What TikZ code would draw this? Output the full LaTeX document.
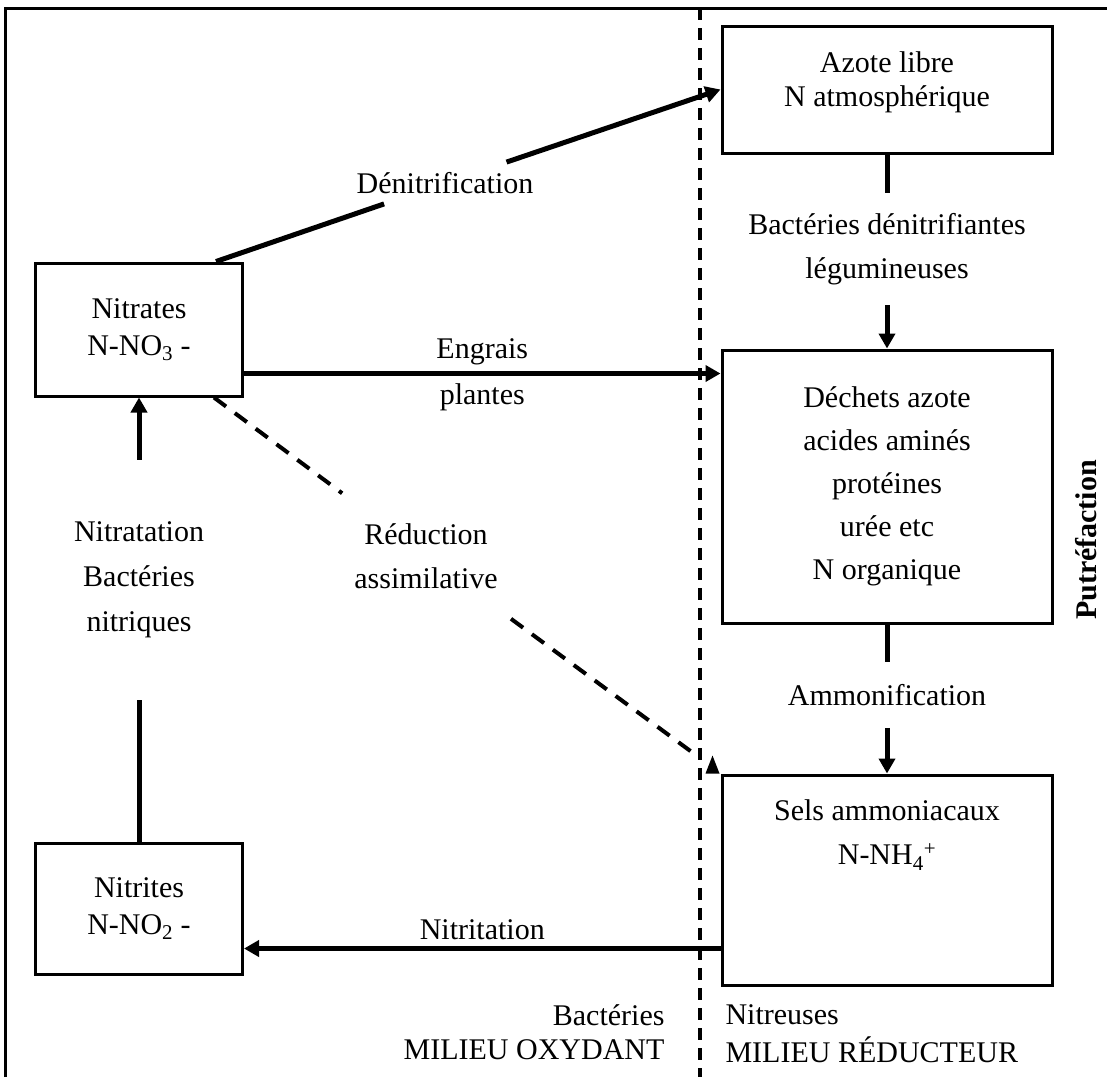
\documentclass[tikz,border=0pt]{standalone}
\usepackage{fontspec}
\setmainfont{Liberation Serif}
\usetikzlibrary{calc,arrows.meta}

\tikzset{
  box/.style={draw, line width=3pt, align=center, inner sep=0pt},
  lbl/.style={align=center, inner sep=10pt},
  conn/.style={line width=5pt},
  arr/.style={line width=5pt, -{Triangle[length=15pt,width=16pt]}},
  dashln/.style={line width=4pt, dash pattern=on 15pt off 11pt},
}

\begin{document}
\begin{tikzpicture}[x=1pt, y=-1pt, font=\fontsize{30pt}{36pt}\selectfont]
    \useasboundingbox(0,0)rectangle(1107,1077);
    % frame
    \path[draw, line width=3pt](5,1077)to(5,8)to(1107,8);
    % separation
    \path[draw, line width=4pt, dash pattern=on 12pt off 8pt](700,8)to(700,1077);
    % boxes right
    \node[box, minimum width=330pt, minimum height=127pt](azote)at(887,89.5){Azote libre\\[-2pt]N atmosphérique\\[-26pt]\strut};
    \node[box, minimum width=330pt, minimum height=273pt](dechets)at(887,486.5){Déchets azote\\[7pt]acides aminés\\[7pt]protéines\\[7pt]urée etc\\[7pt]N organique};
    \node[box, minimum width=330pt, minimum height=210pt](sels)at(887,880){};
    \node[align=center](selstxt)at(887,835){Sels ammoniacaux\\[8pt]N-NH\textsubscript{4}\textsuperscript{+}};
    % boxes left
    \node[box, minimum width=207pt, minimum height=133pt](nitrates)at(139,329.5){Nitrates\\[1pt]N-NO\textsubscript{3} -};
    \node[box, minimum width=207pt, minimum height=131pt](nitrites)at(139,908.5){Nitrites\\[1pt]N-NO\textsubscript{2} -};
    % denitrification
    \coordinate(dA)at($(nitrates.north east)+(-28,0)$);
    \node[lbl](denit)at(445,183){Dénitrification};
    \path[draw, conn](dA)to(denit);
    \path[draw, arr](denit)to(azote.west);
    % azote -> dechets
    \node[lbl, inner ysep=20pt](bact)at(887,249){Bactéries dénitrifiantes\\[8pt]légumineuses};
    \path[draw, conn](azote)to(bact);
    \path[draw, arr](bact)to(dechets);
    % engrais
    \coordinate(eA)at($(nitrates.south east)+(0,-24)$);
    \path[draw, arr](eA)to node[above=4pt, inner sep=2pt](engr){Engrais} node[below=6pt, inner sep=2pt](plnt){plantes}(dechets.west|-eA);
    % reduction assimilative
    \coordinate(rA)at($(nitrates.south east)+(-30,0)$);
    \coordinate(rB)at($(sels.north west)+(-24,-18)$);
    \node[lbl, inner xsep=15pt, inner ysep=30pt](reduc)at(426,556){Réduction\\[8pt]assimilative};
    \path[draw, dashln](rA)to(reduc);
    \path[draw, dashln](reduc)to(rB);
    \path[fill]($(sels.north west)+(-15,0)$)--++(14,0)--++(-7,-18)--cycle;
    % nitratation
    \node[lbl, inner ysep=62pt](nitra)at(139,580){Nitratation\\[9pt]Bactéries\\[9pt]nitriques};
    \path[draw, conn](nitrites)to(nitra);
    \path[draw, arr](nitra)to(nitrates);
    % ammonification
    \node[lbl, inner ysep=22pt](ammon)at(887,695){Ammonification};
    \path[draw, conn](dechets)to(ammon);
    \path[draw, arr](ammon)to(sels);
    % nitritation
    \coordinate(nA)at($(sels.south west)+(0,-38)$);
    \path[draw, arr](nA)to node[above=4pt, inner sep=2pt](nitri){Nitritation}(nitrites.east|-nA);
    % putrefaction
    \node[font=\fontsize{30pt}{36pt}\selectfont\bfseries, rotate=90](putr)at(1086,540){Putréfaction};
    % milieux
    \node[anchor=east](bactox)at(668,1015){Bactéries};
    \node[anchor=east](oxyd)at(668,1050){MILIEU OXYDANT};
    \node[anchor=west](nitreu)at(722,1015){Nitreuses};
    \node[anchor=west](reduct)at(722,1050){MILIEU RÉDUCTEUR};
\end{tikzpicture}
\end{document}
